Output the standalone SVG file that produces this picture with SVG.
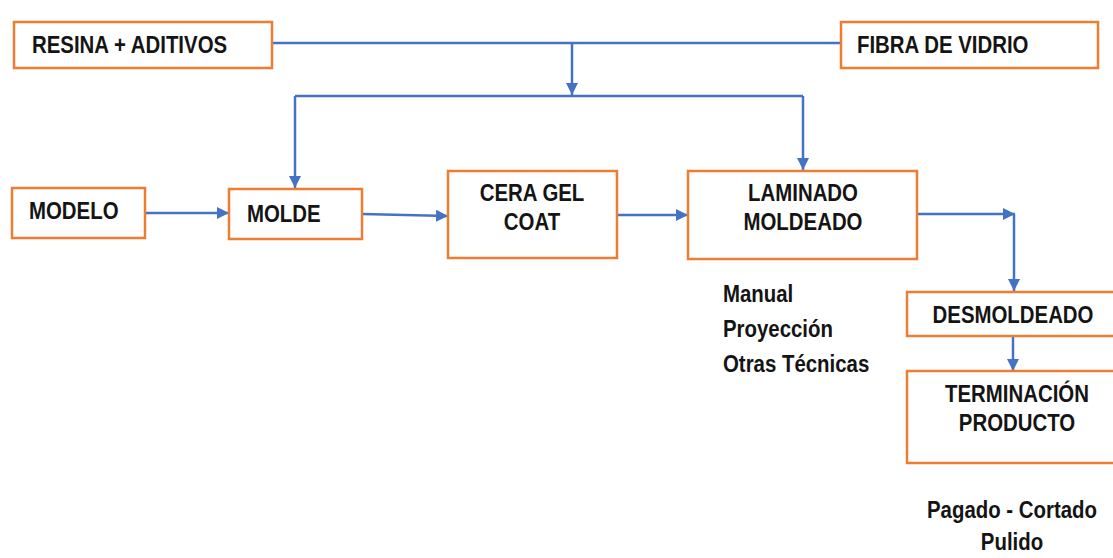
<svg xmlns="http://www.w3.org/2000/svg" width="1113" height="558" viewBox="0 0 1113 558">
<defs>
<style>
.box{fill:#fff;stroke:#ED7D31;stroke-width:2.5}
.t{font-family:"Liberation Sans",Arial,sans-serif;font-weight:bold;font-size:24px;fill:#141414}
.c{text-anchor:middle}
.ln{fill:none;stroke:#4472C4;stroke-width:2.5}
</style>
<marker id="ah" markerUnits="userSpaceOnUse" markerWidth="14" markerHeight="14" refX="12" refY="6" orient="auto">
<path d="M0,0 L12,6 L0,12 Z" fill="#4472C4"/>
</marker>
</defs>
<rect width="1113" height="558" fill="#fff"/>
<g id="connectors">
<path class="ln" d="M272,43 H841"/>
<path class="ln" d="M572,43 V95" marker-end="url(#ah)"/>
<path class="ln" d="M295,96 H803"/>
<path class="ln" d="M295,96 V188" marker-end="url(#ah)"/>
<path class="ln" d="M803,96 V170" marker-end="url(#ah)"/>
<path class="ln" d="M145,213 H229" marker-end="url(#ah)"/>
<path class="ln" d="M362,214 L448,216" marker-end="url(#ah)"/>
<path class="ln" d="M617,215 H688" marker-end="url(#ah)"/>
<path class="ln" d="M917,214 H1015" marker-end="url(#ah)"/>
<path class="ln" d="M1014,214 V291" marker-end="url(#ah)"/>
<path class="ln" d="M1013,336 V371" marker-end="url(#ah)"/>
</g>
<g id="resina">
<rect class="box" x="14" y="22" width="258" height="46"/>
<text class="t" transform="translate(32,53) scale(0.85,1)">RESINA + ADITIVOS</text>
</g>
<g id="fibra">
<rect class="box" x="841" y="22" width="257" height="46"/>
<text class="t" transform="translate(857,53) scale(0.85,1)">FIBRA DE VIDRIO</text>
</g>
<g id="modelo">
<rect class="box" x="12" y="188" width="133" height="50"/>
<text class="t" transform="translate(29,219) scale(0.85,1)">MODELO</text>
</g>
<g id="molde">
<rect class="box" x="229" y="189" width="133" height="50"/>
<text class="t" transform="translate(247,222) scale(0.85,1)">MOLDE</text>
</g>
<g id="cera">
<rect class="box" x="448" y="171" width="169" height="87"/>
<text class="t c" transform="translate(532,201) scale(0.85,1)">CERA GEL</text>
<text class="t c" transform="translate(532,230) scale(0.85,1)">COAT</text>
</g>
<g id="laminado">
<rect class="box" x="688" y="171" width="229" height="88"/>
<text class="t c" transform="translate(803,201) scale(0.85,1)">LAMINADO</text>
<text class="t c" transform="translate(803,230) scale(0.85,1)">MOLDEADO</text>
</g>
<g id="tecnicas">
<text class="t" transform="translate(723,302) scale(0.85,1)">Manual</text>
<text class="t" transform="translate(723,337) scale(0.85,1)">Proyección</text>
<text class="t" transform="translate(723,372) scale(0.85,1)">Otras Técnicas</text>
</g>
<g id="desmoldeado">
<rect class="box" x="907" y="292" width="212" height="44"/>
<text class="t c" transform="translate(1013,323) scale(0.85,1)">DESMOLDEADO</text>
</g>
<g id="terminacion">
<rect class="box" x="907" y="371" width="212" height="92"/>
<text class="t c" transform="translate(1017,402) scale(0.85,1)">TERMINACIÓN</text>
<text class="t c" transform="translate(1017,431) scale(0.85,1)">PRODUCTO</text>
</g>
<g id="acabado">
<text class="t c" transform="translate(1012,518) scale(0.85,1)">Pagado - Cortado</text>
<text class="t c" transform="translate(1012,550) scale(0.85,1)">Pulido</text>
</g>
</svg>
